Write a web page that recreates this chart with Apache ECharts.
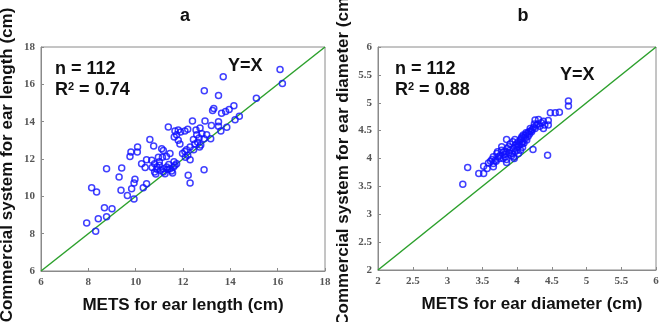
<!DOCTYPE html>
<html>
<head>
<meta charset="utf-8">
<script src="https://cdn.jsdelivr.net/npm/echarts@6/dist/echarts.min.js"></script>
<style>
  html, body { margin: 0; padding: 0; background: #fff; }
  #chart { width: 661px; height: 322px; }
</style>
</head>
<body>
<div id="chart"></div>
<script>
// panel a: ear length (cm)
const lengthMets = [16.1, 16.2, 15.1, 13.7, 12.9, 13.5, 13.25, 13.3, 13.8, 14.15, 14.38, 14.2, 13.85, 13.6, 13.5, 13.5, 13.63, 12.93, 12.4, 13.2,
    12.72, 11.38, 12.2, 12.08, 11.8, 11.66, 11.73, 11.63, 11.8, 11.87, 12.58, 13.0, 12.89, 13.17, 12.44, 12.68, 12.62, 12.5, 12.7, 12.3,
    12.15, 12.08, 11.98, 12.1, 12.2, 12.3, 12.22, 12.3, 12.89, 10.6, 10.76, 10.08, 10.07, 9.8, 9.76, 10.25, 10.4, 10.46, 10.68, 10.8,
    10.9, 10.8, 10.85, 10.96, 11.17, 11.1, 11.13, 11.3, 11.45, 11.0, 11.17, 11.31, 11.17, 11.45, 11.6, 11.52, 11.73, 11.66, 11.56, 11.24,
    8.77, 9.3, 9.41, 9.38, 9.97, 9.93, 9.83, 10.32, 10.46, 9.65, 9.93, 8.14, 8.35, 8.68, 9.0, 8.42, 8.77, 7.93, 8.31,
    10.9, 11.05, 11.4, 11.62, 11.0, 12.45, 12.8, 13.95, 12.55, 11.9, 10.7, 11.35, 12.75];
const lengthComm = [16.8, 16.05, 15.25, 16.4, 15.65, 15.4, 14.6, 14.7, 14.55, 14.85, 14.29, 14.1, 13.7, 13.5, 13.75, 14.0, 14.45, 14.03, 14.03, 13.8,
    13.66, 13.71, 13.6, 13.5, 13.55, 13.5, 13.3, 13.18, 13.0, 12.8, 13.3, 13.3, 13.09, 13.09, 13.04, 13.13, 12.9, 12.8, 12.64, 12.64,
    12.5, 12.4, 12.29, 12.1, 12.2, 11.96, 11.13, 10.71, 11.43, 13.04, 12.7, 12.64, 12.38, 12.38, 12.14, 11.75, 11.54, 11.96, 11.93, 11.75,
    11.57, 11.3, 11.2, 12.1, 12.46, 12.55, 12.1, 12.14, 12.29, 11.66, 11.48, 11.57, 11.3, 11.48, 11.57, 11.36, 11.75, 11.66, 11.25, 11.21,
    11.48, 11.04, 11.52, 10.32, 10.91, 10.71, 10.41, 10.46, 10.68, 10.05, 9.86, 10.46, 10.23, 9.39, 9.34, 8.8, 8.9, 8.57, 8.13,
    11.45, 11.4, 11.7, 11.85, 11.85, 12.5, 13.35, 14.65, 13.55, 13.45, 11.55, 11.45, 12.75];

// panel b: ear diameter (cm)
const diamMets = [4.74, 4.74, 4.61, 4.55, 4.48, 4.45, 4.45, 4.38, 4.31, 4.26, 4.25, 4.33, 4.38, 4.26, 4.19, 4.17, 4.21, 4.13, 4.09, 4.07,
    4.05, 4.07, 4.02, 4.1, 4.14, 3.97, 4.0, 3.85, 3.88, 3.9, 3.95, 3.93, 3.81, 3.76, 3.78, 3.71, 3.73, 3.66, 3.69, 3.64,
    3.83, 3.85, 3.95, 4.02, 4.05, 4.0, 3.85, 3.66, 3.66, 3.59, 3.57, 3.52, 3.45, 3.52, 3.29, 3.22, 4.23, 4.44, 3.78, 3.9, 3.94,
    4.1, 4.12, 4.15, 4.2, 4.22, 4.28, 4.3, 4.35, 4.4, 4.08, 4.04, 4.0, 3.97, 3.92, 3.88, 3.82, 3.8, 3.75, 3.7, 3.72,
    3.86, 3.98, 4.06, 4.12, 4.18, 4.24, 4.02, 3.96, 3.84, 4.08, 4.16, 3.62];
const diamComm = [5.03, 4.94, 4.83, 4.82, 4.82, 4.68, 4.6, 4.67, 4.7, 4.69, 4.62, 4.58, 4.54, 4.54, 4.54, 4.48, 4.48, 4.46, 4.42, 4.39,
    4.33, 4.26, 4.22, 4.28, 4.33, 4.34, 4.27, 4.34, 4.21, 4.15, 4.18, 4.09, 4.12, 4.06, 4.15, 4.09, 4.03, 4.03, 3.97, 3.98,
    4.03, 3.98, 4.03, 4.09, 4.15, 4.15, 3.93, 3.91, 3.85, 3.92, 3.82, 3.86, 3.73, 3.73, 3.84, 3.54, 4.16, 4.06, 4.21, 4.26, 4.3,
    4.38, 4.42, 4.45, 4.5, 4.52, 4.6, 4.62, 4.64, 4.6, 4.3, 4.25, 4.2, 4.12, 4.05, 4.1, 4.07, 4.0, 4.0, 3.95, 4.12,
    4.18, 4.24, 4.36, 4.36, 4.44, 4.56, 4.3, 4.0, 4.12, 4.2, 4.4, 3.95];

const lengthRange = [6, 18];
const diamRange = [2, 6];
const panelTitles = ['a', 'b'];
const statsText = [['n = 112', '0.74'], ['n = 112', '0.88']];

const tickFont = {
    fontFamily: 'Liberation Serif',
    fontWeight: 'bold',
    fontSize: 11,
    color: '#555'
};
const nameFont = {
    fontFamily: 'Liberation Sans',
    fontWeight: 'bold',
    fontSize: 17,
    color: '#111'
};

function zip(xs, ys) {
    return xs.map((x, i) => [x, ys[i]]);
}

function makeAxis(range, interval, name, gap, extra) {
    return Object.assign({
        type: 'value',
        min: range[0],
        max: range[1],
        interval: interval,
        name: name,
        nameLocation: 'middle',
        nameGap: gap,
        nameTextStyle: nameFont,
        axisLine: { show: true, lineStyle: { color: '#8a8a8a', width: 1 } },
        axisTick: { show: true, inside: true, length: 3, lineStyle: { color: '#8a8a8a' } },
        axisLabel: Object.assign({ margin: 6 }, tickFont),
        splitLine: { show: false }
    }, extra || {});
}

function scatter(idx, data) {
    return {
        type: 'scatter',
        xAxisIndex: idx,
        yAxisIndex: idx,
        data: data,
        symbol: 'circle',
        symbolSize: 6,
        itemStyle: { color: 'rgba(0,0,0,0)', borderColor: '#1010ff', borderWidth: 1.5 },
        z: 3
    };
}

function identity(idx, range) {
    return {
        type: 'line',
        xAxisIndex: idx,
        yAxisIndex: idx,
        data: [[range[0], range[0]], [range[1], range[1]]],
        symbol: 'none',
        lineStyle: { color: '#2ca02c', width: 1.5 },
        z: 2
    };
}

function statLabels(left, top, yxLeft, yxTop, stats) {
    const font = 'bold 18px "Liberation Sans"';
    return [{
        type: 'text', left: left, top: top,
        style: { text: stats[0], font: font, fill: '#111' }
    }, {
        type: 'text', left: left, top: top + 21,
        style: {
            text: 'R{sup|2} = ' + stats[1],
            font: font,
            fill: '#111',
            rich: { sup: { fontSize: 11, fontWeight: 'bold', fontFamily: 'Liberation Sans', padding: [0, 0, 8, 0] } }
        }
    }, {
        type: 'text', left: yxLeft, top: yxTop,
        style: { text: 'Y=X', font: font, fill: '#111' }
    }];
}

const chart = echarts.init(document.getElementById('chart'));

chart.setOption({
    backgroundColor: '#fff',
    animation: false,
    title: [{
        text: panelTitles[0], left: 180, top: 2, textAlign: 'center',
        textStyle: { fontFamily: 'Liberation Sans', fontWeight: 'bold', fontSize: 18, color: '#111' }
    }, {
        text: panelTitles[1], left: 518, top: 2, textAlign: 'center',
        textStyle: { fontFamily: 'Liberation Sans', fontWeight: 'bold', fontSize: 18, color: '#111' }
    }],
    grid: [
        { left: 41, top: 47, width: 284, height: 224, show: true, borderColor: '#8a8a8a', borderWidth: 1, containLabel: false, outerBoundsMode: 'none' },
        { left: 378, top: 47, width: 278, height: 223, show: true, borderColor: '#8a8a8a', borderWidth: 1, containLabel: false, outerBoundsMode: 'none' }
    ],
    xAxis: [
        makeAxis(lengthRange, 2, 'METS for ear length (cm)', 26, { gridIndex: 0 }),
        makeAxis(diamRange, 0.5, 'METS for ear diameter (cm)', 26, {
            gridIndex: 1,
            nameTextStyle: Object.assign({}, nameFont, { padding: [0, 0, 0, 30] })
        })
    ],
    yAxis: [
        makeAxis(lengthRange, 2, 'Commercial system for ear length (cm)', 25, {
            gridIndex: 0,
            nameTextStyle: Object.assign({}, nameFont, { padding: [0, 12, 0, 0] })
        }),
        makeAxis(diamRange, 0.5, 'Commercial system for ear diameter (cm)', 26, { gridIndex: 1 })
    ],
    series: [
        identity(0, lengthRange),
        scatter(0, zip(lengthMets, lengthComm)),
        identity(1, diamRange),
        scatter(1, zip(diamMets, diamComm))
    ],
    graphic: [].concat(
        statLabels(55, 60, 228, 57, statsText[0]),
        statLabels(395, 60, 560, 66, statsText[1])
    )
});
</script>
</body>
</html>
